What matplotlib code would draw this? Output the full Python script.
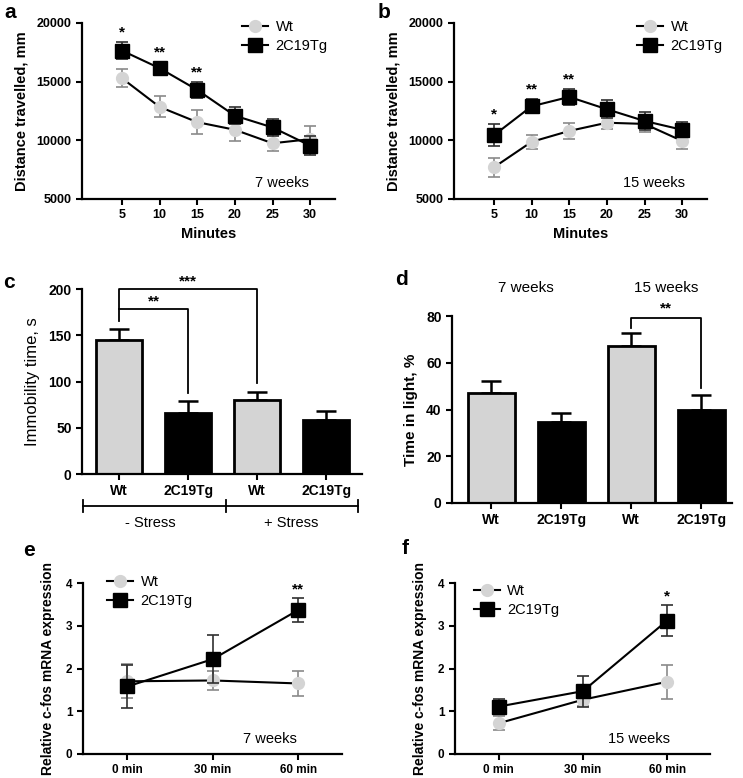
import numpy as np
import matplotlib
matplotlib.use('Agg')
import matplotlib.pyplot as plt
import matplotlib.transforms as mtrans
from matplotlib.lines import Line2D

plt.rcParams['font.family'] = ['Liberation Sans', 'DejaVu Sans']

# ---- data ----
minutes = [5, 10, 15, 20, 25, 30]

a_wt = [15300, 12850, 11550, 10900, 9750, 10100]
a_wt_err = [750, 900, 1000, 950, 700, 1100]
a_tg = [17650, 16150, 14300, 12100, 11100, 9550]
a_tg_err = [750, 500, 650, 750, 750, 800]
a_stars = ['*', '**', '**', '', '', '']

b_wt = [7700, 9870, 10800, 11500, 11400, 9950]
b_wt_err = [800, 600, 650, 550, 650, 650]
b_tg = [10430, 12900, 13700, 12650, 11650, 10900]
b_tg_err = [950, 600, 650, 750, 750, 650]
b_stars = ['*', '**', '**', '', '', '']

c_groups = ['Wt', '2C19Tg', 'Wt', '2C19Tg']
c_vals = [145, 65.5, 80.5, 58]
c_err = [12, 13.5, 8, 10]
c_conditions = ['- Stress', '+ Stress']

d_groups = ['Wt', '2C19Tg', 'Wt', '2C19Tg']
d_vals = [47.2, 34.7, 67.3, 40]
d_err = [5, 4, 5.3, 6]
d_ages = ['7 weeks', '15 weeks']

times = ['0 min', '30 min', '60 min']
e_wt = [1.7, 1.72, 1.65]
e_wt_err = [0.4, 0.23, 0.3]
e_tg = [1.58, 2.22, 3.37]
e_tg_err = [0.5, 0.57, 0.28]
e_stars = ['', '', '**']

f_wt = [0.72, 1.27, 1.69]
f_wt_err = [0.16, 0.15, 0.4]
f_tg = [1.11, 1.47, 3.12]
f_tg_err = [0.18, 0.36, 0.37]
f_stars = ['', '', '*']

W, H = 743, 778
fig = plt.figure(figsize=(W / 100, H / 100), dpi=100)

def add_ax(l, t, r, b):
  return fig.add_axes([l / W, 1 - b / H, (r - l) / W, (b - t) / H])

WT_FACE = '#d4d4d4'
WT_ERR = '#8a8a8a'
TG_ERR = '#303030'

def style(ax, tick_size):
  for s in ['top', 'right']:
    ax.spines[s].set_visible(False)
  for s in ['left', 'bottom']:
    ax.spines[s].set_linewidth(1.6)
  ax.tick_params(direction='out', length=4, width=1.5, labelsize=tick_size)
  for lab in ax.get_xticklabels() + ax.get_yticklabels():
    lab.set_fontweight('bold')

def line_panel(ax, x, wt, wt_err, tg, tg_err, msize_sq=9.5, msize_c=8.5):
  ax.errorbar(x, wt, yerr=wt_err, fmt='-o', color='black', mfc=WT_FACE, mec=WT_FACE,
              ms=msize_c, lw=1.5, ecolor=WT_ERR, elinewidth=1.2, capsize=4.5, capthick=1.2,
              zorder=2)
  ax.errorbar(x, tg, yerr=tg_err, fmt='-s', color='black', mfc='black', mec='black',
              ms=msize_sq, lw=1.5, ecolor=TG_ERR, elinewidth=1.2, capsize=4.5, capthick=1.2,
              zorder=3)

def legend(ax, x, y, msize_sq=9.5):
  handles = [Line2D([], [], color='black', lw=1.5, marker='o', ms=8.5, mfc=WT_FACE, mec=WT_FACE),
             Line2D([], [], color='black', lw=1.5, marker='s', ms=msize_sq, mfc='black', mec='black')]
  ax.legend(handles, ['Wt', '2C19Tg'], loc='upper left', bbox_to_anchor=(x, y), frameon=False,
            fontsize=10.5, handlelength=1.8, handletextpad=0.5, labelspacing=0.35,
            borderaxespad=0)

# ---- a and b: distance travelled ----
for key, box, wt, wte, tg, tge, stars, age, lx in [
    ('a', (82, 23, 335, 199), a_wt, a_wt_err, a_tg, a_tg_err, a_stars, '7 weeks', 0.61),
    ('b', (454, 23, 707, 199), b_wt, b_wt_err, b_tg, b_tg_err, b_stars, '15 weeks', 0.70)]:
  ax = add_ax(*box)
  line_panel(ax, minutes, wt, wte, tg, tge)
  ax.set_xlim(-0.3, 33.3)
  ax.set_ylim(5000, 20000)
  ax.set_xticks(minutes)
  ax.set_yticks([5000, 10000, 15000, 20000])
  style(ax, 9)
  ax.set_xlabel('Minutes', fontsize=10.5, fontweight='bold', labelpad=4)
  ax.set_ylabel('Distance travelled, mm', fontsize=10.5, fontweight='bold', labelpad=6)
  for xi, m, e, s in zip(minutes, tg, tge, stars):
    if s:
      ax.text(xi, m + e + 200, s, ha='center', va='bottom', fontsize=11, fontweight='bold')
  ax.text(26.2, 6400, age, ha='center', va='center', fontsize=10.5)
  legend(ax, lx, 1.05)

# ---- c: immobility time ----
ax = add_ax(82, 289, 362, 474)
xc = np.arange(len(c_vals))
cols = [WT_FACE, 'black', WT_FACE, 'black']
ax.bar(xc, c_vals, width=0.67, color=cols, edgecolor='black', linewidth=2, zorder=2)
ax.errorbar(xc, c_vals, yerr=[np.zeros(len(c_err)), c_err], fmt='none', ecolor='black',
            elinewidth=1.8, capsize=7, capthick=1.8, zorder=1)
ax.set_xlim(-0.54, 3.52)
ax.set_ylim(0, 200)
ax.set_yticks([0, 50, 100, 150, 200])
ax.set_xticks(xc)
ax.set_xticklabels(c_groups)
style(ax, 10)
ax.set_ylabel('Immobility time, s', fontsize=12, labelpad=6)
# significance brackets
ax.plot([0, 0, 2, 2], [165, 200, 200, 98], color='black', lw=1.3, clip_on=False)
ax.plot([0, 1, 1], [178, 178, 88], color='black', lw=1.3, clip_on=False)
ax.text(1.0, 201, '***', ha='center', va='bottom', fontsize=11, fontweight='bold')
ax.text(0.5, 179, '**', ha='center', va='bottom', fontsize=11, fontweight='bold')
# condition groups below axis
tr = mtrans.blended_transform_factory(ax.transData, ax.transAxes)
ax.plot([-0.52, 3.46], [-0.173, -0.173], color='black', lw=1.3, transform=tr, clip_on=False)
for xv in [-0.52, 1.55, 3.46]:
  ax.plot([xv, xv], [-0.14, -0.205], color='black', lw=1.3, transform=tr, clip_on=False)
for xv, lab in zip([0.45, 2.5], c_conditions):
  ax.text(xv, -0.225, lab, ha='center', va='top', fontsize=10.5, transform=tr)

# ---- d: time in light ----
ax = add_ax(452, 316, 732, 503)
xd = np.arange(len(d_vals))
ax.bar(xd, d_vals, width=0.67, color=cols, edgecolor='black', linewidth=2, zorder=2)
ax.errorbar(xd, d_vals, yerr=[np.zeros(len(d_err)), d_err], fmt='none', ecolor='black',
            elinewidth=1.8, capsize=7, capthick=1.8, zorder=1)
ax.set_xlim(-0.56, 3.44)
ax.set_ylim(0, 80)
ax.set_yticks([0, 20, 40, 60, 80])
ax.set_xticks(xd)
ax.set_xticklabels(d_groups)
style(ax, 10)
ax.set_ylabel('Time in light, %', fontsize=11, fontweight='bold', labelpad=6)
ax.plot([2, 2, 3, 3], [75, 79, 79, 49], color='black', lw=1.3, clip_on=False)
ax.text(2.5, 80.3, '**', ha='center', va='bottom', fontsize=11, fontweight='bold')
tr = mtrans.blended_transform_factory(ax.transData, ax.transAxes)
for xv, lab in zip([0.5, 2.5], d_ages):
  ax.text(xv, 1.15, lab, ha='center', va='center', fontsize=11, transform=tr)

# ---- e and f: c-fos expression ----
for key, box, wt, wte, tg, tge, stars, age, lpos in [
    ('e', (83, 583, 342, 754), e_wt, e_wt_err, e_tg, e_tg_err, e_stars, '7 weeks', (0.07, 1.08)),
    ('f', (455, 583, 710, 754), f_wt, f_wt_err, f_tg, f_tg_err, f_stars, '15 weeks', (0.05, 1.03))]:
  ax = add_ax(*box)
  xt = np.arange(len(times))
  line_panel(ax, xt, wt, wte, tg, tge, msize_sq=10.5, msize_c=8.5)
  ax.set_xlim(-0.52, 2.51)
  ax.set_ylim(0, 4)
  ax.set_yticks([0, 1, 2, 3, 4])
  ax.set_xticks(xt)
  ax.set_xticklabels(times)
  style(ax, 8.5)
  ax.set_ylabel('Relative c-fos mRNA expression', fontsize=10, fontweight='bold', labelpad=8)
  for xi, m, e, s in zip(xt, tg, tge, stars):
    if s:
      ax.text(xi, m + e + 0.04, s, ha='center', va='bottom', fontsize=11, fontweight='bold')
  ax.text(1.67, 0.35, age, ha='center', va='center', fontsize=10.5)
  legend(ax, *lpos, msize_sq=10.5)

# panel letters
for lab, px, py in [('a', 10, 12), ('b', 384, 12), ('c', 9, 283), ('d', 402, 279),
                    ('e', 29, 550), ('f', 405, 548)]:
  fig.text(px / W, 1 - py / H, lab, fontsize=15, fontweight='bold', ha='center', va='center')

plt.savefig('out.png', dpi=100)
